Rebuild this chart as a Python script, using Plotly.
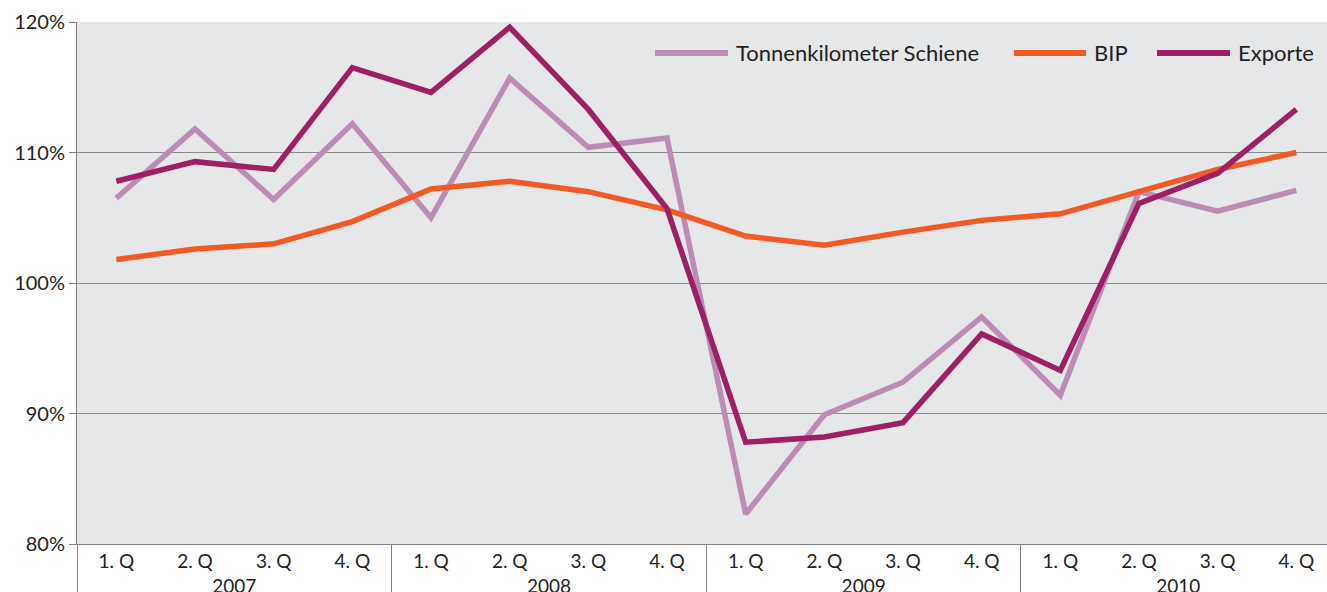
import plotly.graph_objects as go

years = ["2007"] * 4 + ["2008"] * 4 + ["2009"] * 4 + ["2010"] * 4
quarters = ["1. Q", "2. Q", "3. Q", "4. Q"] * 4

tonnenkm = [106.5, 111.8, 106.4, 112.2, 105.0, 115.7, 110.4, 111.1,
            82.3, 89.9, 92.4, 97.4, 91.4, 107.0, 105.5, 107.1]
bip = [101.8, 102.6, 103.0, 104.7, 107.2, 107.8, 107.0, 105.6,
       103.6, 102.9, 103.9, 104.8, 105.3, 107.0, 108.7, 110.0]
exporte = [107.8, 109.3, 108.7, 116.5, 114.6, 119.6, 113.3, 105.7,
           87.8, 88.2, 89.3, 96.1, 93.3, 106.1, 108.4, 113.3]

y_ticks = [80, 90, 100, 110, 120]
y_labels = ["80%", "90%", "100%", "110%", "120%"]

series = [
    ("Tonnenkilometer Schiene", tonnenkm, "#BC8CB5"),
    ("BIP", bip, "#F15A24"),
    ("Exporte", exporte, "#9E1F63"),
]

W, H = 1327, 592
ML, MR, MT, MB = 77, 0, 22, 48
PW, PH = W - ML - MR, H - MT - MB

fig = go.Figure()
for name, vals, col in series:
    fig.add_trace(go.Scatter(
        x=[years, quarters], y=vals, name=name, mode="lines",
        line=dict(color=col, width=5.5), showlegend=False,
    ))

# custom legend (long line samples like the reference)
leg_y_px = 53
leg_items_px = [(655, 728), (1014, 1086), (1157, 1230)]
def px_x(p):
    return (p - ML) / PW
py = (H - MB - leg_y_px) / PH
for (name, _, col), (x0, x1) in zip(series, leg_items_px):
    fig.add_shape(type="line", xref="paper", yref="paper",
                  x0=px_x(x0), x1=px_x(x1), y0=py, y1=py,
                  line=dict(color=col, width=6))
    fig.add_annotation(xref="paper", yref="paper", x=px_x(x1 + 6), y=py,
                       xanchor="left", yanchor="middle", text=name,
                       showarrow=False, font=dict(size=22, color="#231F20"))

fig.update_layout(
    width=W, height=H,
    margin=dict(l=ML, r=MR, t=MT, b=MB, autoexpand=False),
    paper_bgcolor="white",
    plot_bgcolor="#E6E7E8",
    font=dict(family="Lato, Open Sans, sans-serif", size=20, color="#231F20"),
    showlegend=False,
)
fig.update_xaxes(
    type="multicategory", automargin=False,
    range=[-0.5, 15.39],
    showgrid=False,
    showline=True, linecolor="#808080", linewidth=1,
    ticks="", showdividers=True, dividercolor="#808080", dividerwidth=1,
    tickfont=dict(size=19),
)
fig.update_yaxes(
    automargin=False,
    range=[80, 120], tickvals=y_ticks, ticktext=y_labels,
    showgrid=True, gridcolor="#8C8C8C", gridwidth=1,
    showline=True, linecolor="#808080", linewidth=1,
    ticks="outside", ticklen=7, tickcolor="#808080",
    tickfont=dict(size=20), zeroline=False,
)

fig.write_html(
    "out.html",
    config={"displayModeBar": False},
    post_script="document.body.style.margin='0';document.body.style.overflow='hidden';",
)
